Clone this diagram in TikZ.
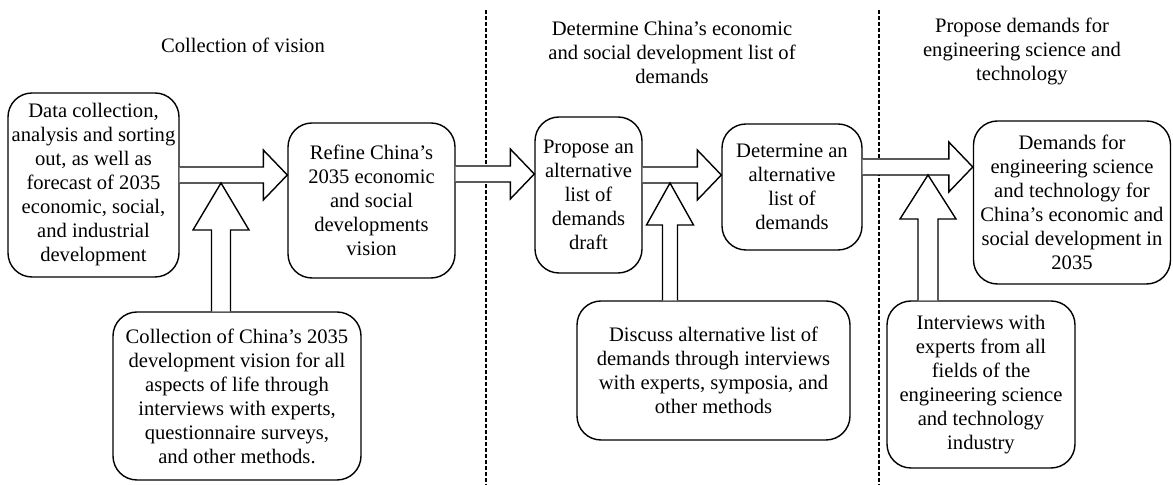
\documentclass[tikz,border=0pt]{standalone}
\usepackage{fontspec}
\setmainfont{Liberation Serif}
\usetikzlibrary{calc}

% hollow block arrows: start, tip
\newcommand{\harrow}[2]{%
  \draw[fat] ($(#1)+(0,-8)$) -- ($(#2)+(-24,-8)$) -- ($(#2)+(-24,-25)$) -- (#2)
    -- ($(#2)+(-24,25)$) -- ($(#2)+(-24,8)$) -- ($(#1)+(0,8)$);}
% start, tip, half shaft, half head, head length
\newcommand{\varrow}[5]{%
  \draw[fat] ($(#1)+(-#3,0)$) -- ($(#2)+(-#3,#5)$) -- ($(#2)+(-#4,#5)$) -- (#2)
    -- ($(#2)+(#4,#5)$) -- ($(#2)+(#3,#5)$) -- ($(#1)+(#3,0)$);}

\begin{document}
\begin{tikzpicture}[x=0.5pt,y=-0.5pt]
\tikzstyle{box}=[draw, rounded corners=12pt, line width=0.7pt, align=center, inner sep=0pt, font=\fontsize{10.3}{12}\selectfont]
\tikzstyle{fat}=[draw, line width=0.7pt, fill=white, line join=miter]
\tikzstyle{title}=[align=center, font=\fontsize{10.3}{12}\selectfont]
\tikzstyle{sep}=[draw, line width=0.6pt, dash pattern=on 2pt off 1pt]
\useasboundingbox (0,0) rectangle (1173,485);

\node[title] (T_1) at (243,45) {Collection of vision};
\node[title] (T_2) at (672,52) {Determine China’s economic\\and social development list of\\demands};
\node[title] (T_3) at (1022,51) {Propose demands for\\engineering science and\\technology};

\node[box, minimum width=85.5pt, minimum height=92pt] (B_1) at (93.5,185) {Data collection,\\analysis and sorting\\out, as well as\\forecast of 2035\\economic, social,\\and industrial\\development};
\node[box, minimum width=83.5pt, minimum height=77.5pt] (B_2) at (371.5,200.5) {Refine China’s\\2035 economic\\and social\\developments\\vision};
\node[box, minimum width=124pt, minimum height=84pt] (B_3) at (237,396) {Collection of China’s 2035\\development vision for all\\aspects of life through\\interviews with experts,\\questionnaire surveys,\\and other methods.};
\node[box, minimum width=53.5pt, minimum height=78pt] (B_4) at (588.5,195) {Propose an\\alternative\\list of\\demands\\draft};
\node[box, minimum width=70pt, minimum height=63pt] (B_5) at (792,187) {Determine an\\alternative\\list of\\demands};
\node[box, minimum width=136.5pt, minimum height=69.5pt] (B_6) at (713.5,370.5) {Discuss alternative list of\\demands through interviews\\with experts, symposia, and\\other methods};
\node[box, minimum width=98.5pt, minimum height=81.5pt] (B_7) at (1072,202.5) {Demands for\\engineering science\\and technology for\\China’s economic and\\social development in\\2035};
\node[box, minimum width=94pt, minimum height=83.5pt] (B_8) at (981,384.5) {Interviews with\\experts from all\\fields of the\\engineering science\\and technology\\industry};

% separators
\path[sep] (486,10) -- (486,485);
\path[sep] (879,10) -- (879,485);

% arrow ends
\coordinate (a_1) at (B_1.east |- 0,175);
\coordinate (a_2) at (B_2.west |- 0,175);
\coordinate (a_3) at (B_2.east |- 0,174);
\coordinate (a_4) at (B_4.west |- 0,174);
\coordinate (a_5) at (B_4.east |- 0,175);
\coordinate (a_6) at (B_5.west |- 0,175);
\coordinate (a_7) at (B_5.east |- 0,167);
\coordinate (a_8) at (B_7.west |- 0,167);
\coordinate (u_1) at (B_3.north -| 221,0);
\coordinate (t_1) at (221,183);
\coordinate (u_2) at (B_6.north -| 670,0);
\coordinate (t_2) at (670,183);
\coordinate (u_3) at (B_8.north -| 928,0);
\coordinate (t_3) at (928,175);

\harrow{a_1}{a_2}
\harrow{a_3}{a_4}
\harrow{a_5}{a_6}
\harrow{a_7}{a_8}
\varrow{u_1}{t_1}{9.5}{28}{47}
\varrow{u_2}{t_2}{7.5}{23.5}{42}
\varrow{u_3}{t_3}{10}{28}{44}

\end{tikzpicture}
\end{document}
